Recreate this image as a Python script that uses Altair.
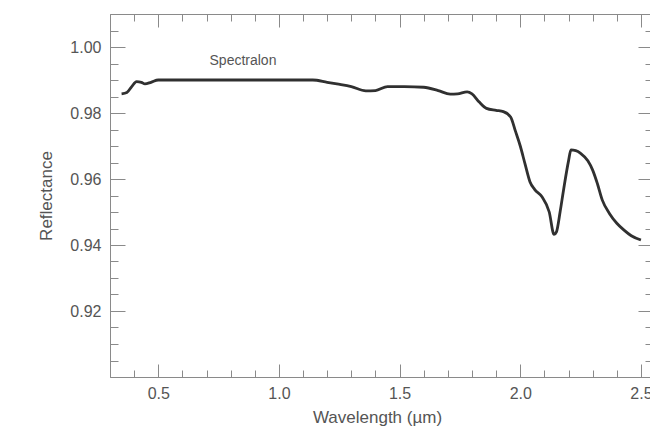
import altair as alt
import pandas as pd

# Spectral reflectance curve
wavelength = [0.348, 0.37, 0.39, 0.41, 0.43, 0.445, 0.47, 0.50, 0.60, 0.80, 1.00, 1.14,
              1.20, 1.24, 1.30, 1.36, 1.40, 1.45, 1.52, 1.60, 1.66, 1.71, 1.74, 1.78,
              1.80, 1.83, 1.86, 1.90, 1.93, 1.96, 1.98, 2.00, 2.02, 2.04, 2.06, 2.09,
              2.12, 2.14, 2.15, 2.165, 2.18, 2.20, 2.21, 2.23, 2.25, 2.28, 2.30, 2.32,
              2.34, 2.37, 2.40, 2.43, 2.46, 2.50]
reflectance = [0.9858, 0.9862, 0.9880, 0.9895, 0.9893, 0.9888, 0.9893, 0.9900, 0.9900, 0.9900, 0.9900, 0.9900,
               0.9893, 0.9888, 0.9880, 0.9867, 0.9868, 0.9880, 0.9880, 0.9878, 0.9868, 0.9857, 0.9858, 0.9864,
               0.9858, 0.9833, 0.9814, 0.9808, 0.9804, 0.9788, 0.9745, 0.9700, 0.9645, 0.9592, 0.9568, 0.9546,
               0.9500, 0.9432, 0.9440, 0.9500, 0.9570, 0.9655, 0.9688, 0.9686, 0.9678, 0.9655, 0.9627, 0.9585,
               0.9536, 0.9495, 0.9466, 0.9445, 0.9428, 0.9415]

x_labels = [0.5, 1.0, 1.5, 2.0, 2.5]
y_labels = [0.92, 0.94, 0.96, 0.98, 1.00]
x_minor = [0.4, 0.6, 0.7, 0.8, 0.9, 1.1, 1.2, 1.3, 1.4, 1.6, 1.7, 1.8, 1.9,
           2.1, 2.2, 2.3, 2.4]
y_minor = [0.905, 0.91, 0.915, 0.925, 0.93, 0.935, 0.945, 0.95, 0.955,
           0.965, 0.97, 0.975, 0.985, 0.99, 0.995, 1.005]

label_text = ["Spectralon"]
label_x = [0.851]
label_y = [0.9958]

df = pd.DataFrame({"wl": wavelength, "r": reflectance})
df_label = pd.DataFrame({"wl": label_x, "r": label_y, "t": label_text})

W, H = 543, 363
FONT = "Liberation Sans"
GRAY = "#555555"
AX = "#8a8a8a"

xscale = alt.Scale(domain=[0.3, 2.55], nice=False, zero=False)
yscale = alt.Scale(domain=[0.90, 1.01], nice=False, zero=False)


def tick_axis(orient, offset, values, size):
    return alt.Axis(orient=orient, offset=offset, values=values, labels=False,
                    title=None, grid=False, domain=True, domainColor=AX,
                    domainWidth=1, tickColor=AX, tickWidth=1, tickSize=size)


line = alt.Chart(df).mark_line(color="#303030", strokeWidth=2.8, interpolate="monotone").encode(
    x=alt.X("wl:Q", scale=xscale,
            axis=alt.Axis(orient="bottom", values=x_labels, format=".1f", ticks=False,
                          domain=False, grid=False, labelPadding=8, labelFontSize=16,
                          labelFont=FONT, labelColor=GRAY, labelFlush=False,
                          title="Wavelength (µm)", titleFont=FONT, titleFontSize=17,
                          titleFontWeight="normal", titleColor=GRAY,
                          titleX=267, titleY=40, titleAlign="center",
                          titleBaseline="middle")),
    y=alt.Y("r:Q", scale=yscale,
            axis=alt.Axis(orient="left", values=y_labels, format=".2f", ticks=False,
                          domain=False, grid=False, labelPadding=9, labelFontSize=16,
                          labelFont=FONT, labelColor=GRAY, labelFlush=False,
                          title="Reflectance", titleFont=FONT, titleFontSize=17,
                          titleFontWeight="normal", titleColor=GRAY,
                          titleX=-64, titleY=181.5, titleAngle=270,
                          titleAlign="center", titleBaseline="middle")),
)

text = alt.Chart(df_label).mark_text(font=FONT, fontSize=14, color=GRAY).encode(
    x=alt.X("wl:Q", scale=xscale, axis=tick_axis("bottom", -H, x_labels, 13)),
    y=alt.Y("r:Q", scale=yscale, axis=tick_axis("right", -W, y_labels, 15)),
    text="t:N",
)

ghost1 = alt.Chart(df).mark_line(opacity=0).encode(
    x=alt.X("wl:Q", scale=xscale, axis=tick_axis("top", -H, x_labels, 13)),
    y=alt.Y("r:Q", scale=yscale, axis=tick_axis("left", -W, y_labels, 15)),
)

ghost2 = alt.Chart(df).mark_line(opacity=0).encode(
    x=alt.X("wl:Q", scale=xscale, axis=tick_axis("bottom", -H, x_minor, 7)),
    y=alt.Y("r:Q", scale=yscale, axis=tick_axis("right", -W, y_minor, 8)),
)

ghost3 = alt.Chart(df).mark_line(opacity=0).encode(
    x=alt.X("wl:Q", scale=xscale, axis=tick_axis("top", -H, x_minor, 7)),
    y=alt.Y("r:Q", scale=yscale, axis=tick_axis("left", -W, y_minor, 8)),
)

chart = alt.layer(line, text, ghost1, ghost2, ghost3).resolve_axis(
    x="independent", y="independent"
).properties(
    width=W, height=H,
    autosize=alt.AutoSizeParams(type="none"),
    padding={"left": 110, "top": 14, "right": -3, "bottom": 54},
    background="white",
).configure_view(stroke=None)

chart.save("out.html", embed_options={"renderer": "svg", "actions": False})
